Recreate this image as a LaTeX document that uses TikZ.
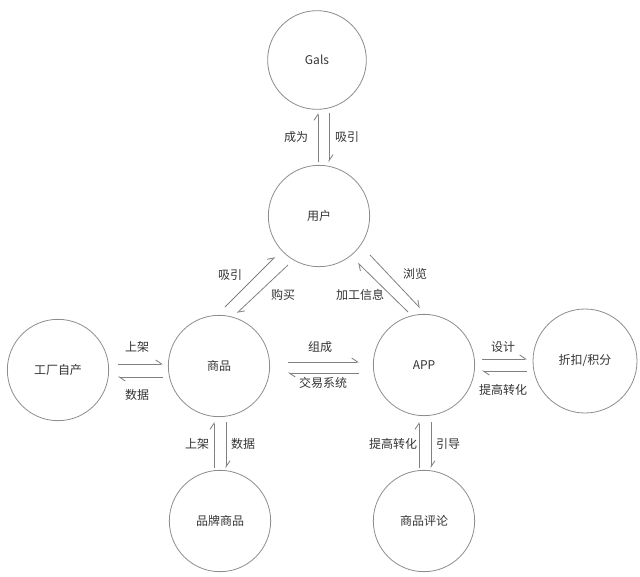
\documentclass[tikz,border=0pt]{standalone}
\usepackage{fontspec}
\usepackage{xcolor}
\setmainfont{Noto Sans CJK SC}
\usetikzlibrary{arrows.meta}
\definecolor{RingGray}{HTML}{8C8C8C}
\definecolor{LineGray}{HTML}{808080}
\definecolor{TextGray}{HTML}{333333}

\tikzset{
  ring/.style={draw=RingGray, line width=0.6pt, circle, minimum size=76pt, inner sep=0pt, text=TextGray, font=\fontsize{9}{11}\selectfont},
  lbl/.style={text=TextGray, font=\fontsize{9}{11}\selectfont, inner sep=1pt},
  harp/.style={draw=LineGray, line width=0.6pt, -{Straight Barb[left, length=4.5pt, width=6pt]}}
}

\begin{document}
\begin{tikzpicture}[x=0.75pt, y=-0.75pt]
                \useasboundingbox (0,0) rectangle (640,576);
                % circles
                \node[ring, minimum size=74pt] (gals) at (317,60) {Gals};
                \node[ring] (user) at (319,216) {用户};
                \node[ring] (factory) at (58,370) {工厂自产};
                \node[ring] (goods) at (219,366) {商品};
                \node[ring] (app) at (424,365) {APP};
                \node[ring, minimum size=78pt] (discount) at (585,361) {折扣/积分};
                \node[ring] (brand) at (220,521) {品牌商品};
                \node[ring] (review) at (424,521) {商品评论};

                % gals <-> user
                \draw[harp] ([shift={(-1,-54)}]user.center) -- ([shift={(1,53)}]gals.center);
                \draw[harp] ([shift={(12,53)}]gals.center) -- ([shift={(10,-54)}]user.center);
                \node[lbl] (chengwei) at (296,137) {成为};
                \node[lbl] (xiyin) at (347,137) {吸引};

                % goods <-> user
                \draw[harp] ([shift={(6,-59)}]goods.center) -- ([shift={(-44,41)}]user.center);
                \draw[harp] ([shift={(-31,49)}]user.center) -- ([shift={(18,-53)}]goods.center);
                \node[lbl] (xiyin2) at (230,275) {吸引};
                \node[lbl] (goumai) at (283,295) {购买};

                % user <-> app
                \draw[harp] ([shift={(51,39)}]user.center) -- ([shift={(-4,-57)}]app.center);
                \draw[harp] ([shift={(-16,-53)}]app.center) -- ([shift={(39,47)}]user.center);
                \node[lbl] (liulan) at (415,274) {浏览};
                \node[lbl] (jiagong) at (360,295) {加工信息};

                % factory <-> goods
                \draw[harp] ([shift={(60,-6)}]factory.center) -- ([shift={(-56,-2)}]goods.center);
                \draw[harp] ([shift={(-56,11)}]goods.center) -- ([shift={(60,7)}]factory.center);
                \node[lbl] (shangjia) at (137,347) {上架};
                \node[lbl] (shuju) at (137,395) {数据};

                % goods <-> app
                \draw[harp] ([shift={(69,-4)}]goods.center) -- ([shift={(-65,-3)}]app.center);
                \draw[harp] ([shift={(-65,8)}]app.center) -- ([shift={(69,7)}]goods.center);
                \node[lbl] (zucheng) at (320,347) {组成};
                \node[lbl] (jiaoyi) at (323,383) {交易系统};

                % app <-> discount
                \draw[harp] ([shift={(58,-6)}]app.center) -- ([shift={(-58,-2)}]discount.center);
                \draw[harp] ([shift={(-58,10)}]discount.center) -- ([shift={(58,6)}]app.center);
                \node[lbl] (sheji) at (503,347) {设计};
                \node[lbl] (tigao) at (503,390) {提高转化};

                % goods <-> brand
                \draw[harp] ([shift={(-6,-53)}]brand.center) -- ([shift={(-5,56)}]goods.center);
                \draw[harp] ([shift={(7,56)}]goods.center) -- ([shift={(6,-53)}]brand.center);
                \node[lbl] (shangjia2) at (197,444) {上架};
                \node[lbl] (shuju2) at (243,444) {数据};

                % app <-> review
                \draw[harp] ([shift={(-5,-53)}]review.center) -- ([shift={(-5,57)}]app.center);
                \draw[harp] ([shift={(7,57)}]app.center) -- ([shift={(7,-53)}]review.center);
                \node[lbl] (tigao2) at (393,444) {提高转化};
                \node[lbl] (yindao) at (448,444) {引导};
            \end{tikzpicture}
\end{document}
